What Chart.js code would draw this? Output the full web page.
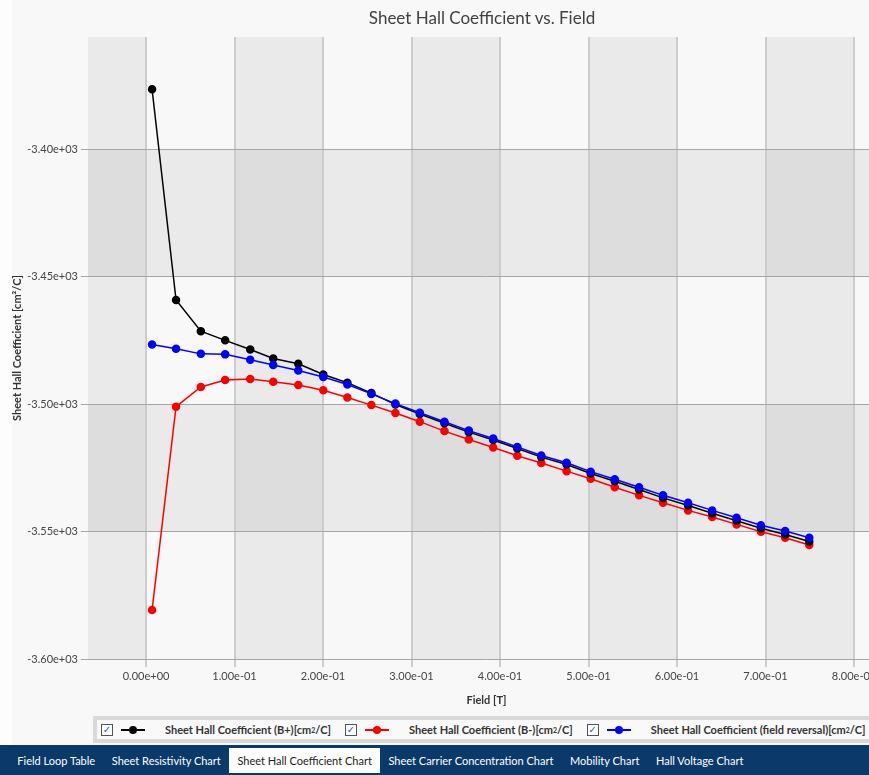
<!DOCTYPE html>
<html>
<head>
<meta charset="utf-8">
<title>Sheet Hall Coefficient vs. Field</title>
<script src="https://cdn.jsdelivr.net/npm/chart.js@4.4.1/dist/chart.umd.min.js"></script>
<style>
  html, body { margin: 0; padding: 0; width: 869px; height: 775px; overflow: hidden; background: #f8f8f8; font-family: Lato, "Liberation Sans", sans-serif; }
  #edge { position: absolute; left: 0; top: 0; width: 12px; height: 745px; background: #fdfdfd; }
  #title { position: absolute; top: 7px; left: 0; width: 964px; text-align: center; font-size: 17px; color: #404040; }
  #wrap { position: absolute; left: 0; top: 0; width: 890px; height: 715px; }
  #legend { position: absolute; left: 93px; top: 716px; width: 800px; height: 27px; background: #d9d9d9; }
  #legend .inner { position: absolute; left: 4px; top: 4px; right: 0; height: 19px; background: #f9f9f9; display: flex; align-items: center; white-space: nowrap; }
  .item { display: inline-flex; align-items: center; font-size: 11px; font-weight: bold; color: #333; margin-right: 10px; }
  .cb { width: 10px; height: 10px; border: 1px solid #555; background: #fff; font: 10px "DejaVu Sans"; line-height: 10px; text-align: center; color: #2a5db0; margin-left: 4px; }
  .sw { position: relative; width: 24px; height: 10px; margin: 0 20px 0 8px; }
  .sw::before { content: ""; position: absolute; left: 0; right: 0; top: 4px; height: 2px; background: var(--c); }
  .sw::after { content: ""; position: absolute; left: 8px; top: 1px; width: 8px; height: 8px; border-radius: 50%; background: var(--c); }
  .item sup { font-size: 7px; }
  #tabs { position: absolute; left: 0; top: 745px; width: 869px; height: 30px; background: #0b3a6a; display: flex; align-items: center; padding-left: 9px; box-sizing: border-box; }
  .tab { color: #fff; font-size: 11px; padding: 6px 8.3px; white-space: nowrap; }
  .tab.active { background: #fff; color: #222; }
</style>
</head>
<body>
<div id="edge"></div>
<div id="wrap"><canvas id="chart" width="890" height="715"></canvas></div>
<div id="title">Sheet Hall Coefficient vs. Field</div>
<div id="legend"><div class="inner" id="legendItems"></div></div>
<div id="tabs">
  <span class="tab">Field Loop Table</span>
  <span class="tab">Sheet Resistivity Chart</span>
  <span class="tab active">Sheet Hall Coefficient Chart</span>
  <span class="tab">Sheet Carrier Concentration Chart</span>
  <span class="tab">Mobility Chart</span>
  <span class="tab">Hall Voltage Chart</span>
</div>
<script>
// field values [T]
const fieldT = [0.0068, 0.0339, 0.0619, 0.0894, 0.1177, 0.1437, 0.1720, 0.2003, 0.2275, 0.2546,
  0.2818, 0.3093, 0.3372, 0.3647, 0.3923, 0.4195, 0.4466, 0.4752, 0.5024, 0.5296,
  0.5571, 0.5842, 0.6125, 0.6397, 0.6673, 0.6948, 0.7222, 0.7494];

// sheet hall coefficient [cm2/C]
const hallBplus = [-3376.5, -3459.2, -3471.4, -3475.0, -3478.6, -3482.1, -3484.2, -3488.4, -3491.6, -3495.7,
  -3500.2, -3503.9, -3507.5, -3511.0, -3514.1, -3517.4, -3520.8, -3523.7, -3527.2, -3530.3,
  -3533.5, -3536.8, -3539.8, -3542.8, -3545.8, -3548.7, -3551.2, -3553.9];
const hallBminus = [-3580.8, -3501.0, -3493.3, -3490.6, -3490.2, -3491.2, -3492.5, -3494.6, -3497.4, -3500.4,
  -3503.5, -3506.9, -3510.6, -3513.9, -3517.0, -3520.3, -3523.1, -3526.3, -3529.3, -3532.6,
  -3535.8, -3538.7, -3541.7, -3544.3, -3547.2, -3550.1, -3552.4, -3555.3];
const hallReversal = [-3476.6, -3478.3, -3480.3, -3480.5, -3482.6, -3484.7, -3486.8, -3489.4, -3492.3, -3496.0,
  -3499.8, -3503.4, -3506.9, -3510.4, -3513.5, -3516.8, -3520.2, -3523.0, -3526.5, -3529.5,
  -3532.6, -3535.8, -3538.7, -3541.7, -3544.6, -3547.5, -3549.8, -3552.4];

const seriesNames = ["Sheet Hall Coefficient (B+)", "Sheet Hall Coefficient (B-)", "Sheet Hall Coefficient (field reversal)"];
const seriesData = [hallBplus, hallBminus, hallReversal];
const seriesColors = ["#000000", "#ff0000", "#0000ff"];
const drawOrder = [1, 2, 0];

const xTicks = [0, 0.1, 0.2, 0.3, 0.4, 0.5, 0.6, 0.7, 0.8];
const yTicks = [-3600, -3550, -3500, -3450, -3400];
const xMin = -0.0656, xMax = 0.835;
const yMin = -3600, yMax = -3356;

function fmtExp(v) {
  const [m, e] = Number(v).toExponential(2).split("e");
  return m + "e" + e[0] + e.slice(1).padStart(2, "0");
}

// alternating grey bands behind the plot
const bands = {
  id: "bands",
  beforeDraw(chart) {
    const { ctx, chartArea: a, scales: { x, y } } = chart;
    ctx.save();
    ctx.fillStyle = "rgba(0,0,0,0.055)";
    const xs = [xMin, ...xTicks, xMax];
    for (let i = 0; i < xs.length - 1; i += 2) {
      const l = Math.max(a.left, x.getPixelForValue(xs[i]));
      const r = Math.min(a.right, x.getPixelForValue(xs[i + 1]));
      ctx.fillRect(l, a.top, r - l, a.bottom - a.top);
    }
    for (let i = 1; i < yTicks.length - 1; i += 2) {
      const t = y.getPixelForValue(yTicks[i + 1]);
      const b = y.getPixelForValue(yTicks[i]);
      ctx.fillRect(a.left, t, a.right - a.left, b - t);
    }
    ctx.restore();
  }
};

const tickFont = { family: "Lato, 'Liberation Sans', sans-serif", size: 11 };

new Chart(document.getElementById("chart"), {
  type: "line",
  data: {
    datasets: seriesNames.map((name, i) => ({
      label: name,
      data: fieldT.map((f, j) => ({ x: f, y: seriesData[i][j] })),
      borderColor: seriesColors[i],
      backgroundColor: seriesColors[i],
      borderWidth: 1.5,
      pointRadius: 3.5,
      pointHoverRadius: 3.5,
      order: drawOrder[i]
    }))
  },
  options: {
    responsive: false,
    animation: false,
    events: [],
    layout: { padding: { top: 37, left: 0, right: 0, bottom: 0 } },
    plugins: { legend: { display: false }, title: { display: false }, tooltip: { enabled: false } },
    scales: {
      x: {
        type: "linear",
        min: xMin,
        max: xMax,
        afterBuildTicks: (s) => { s.ticks = xTicks.map((v) => ({ value: v })); },
        afterFit: (s) => { s.height = 56; },
        ticks: { callback: (v) => fmtExp(v), font: tickFont, color: "#444", padding: 3, maxRotation: 0, autoSkip: false },
        grid: { color: "#cccccc", lineWidth: 2, tickLength: 8 },
        border: { display: false },
        title: { display: true, text: "Field [T]", font: { ...tickFont, weight: "bold" }, color: "#333", padding: { top: 0, bottom: 8 } }
      },
      y: {
        min: yMin,
        max: yMax,
        afterBuildTicks: (s) => { s.ticks = yTicks.map((v) => ({ value: v })); },
        afterFit: (s) => { s.width = 88; },
        ticks: { callback: (v) => fmtExp(v), font: tickFont, color: "#444", padding: 3 },
        grid: { color: "#a6a6a6", lineWidth: 1, tickLength: 7 },
        border: { display: false },
        title: { display: true, text: "Sheet Hall Coefficient [cm²/C]", font: { ...tickFont, weight: "bold" }, color: "#333", padding: { top: 11, bottom: 4 } }
      }
    }
  },
  plugins: [bands]
});

// legend with check boxes
const legendItems = document.getElementById("legendItems");
seriesNames.forEach((name, i) => {
  const item = document.createElement("span");
  item.className = "item";
  item.innerHTML = `<span class="cb">✓</span><span class="sw" style="--c:${seriesColors[i]}"></span>${name}[cm<sup>2</sup>/C]`;
  legendItems.appendChild(item);
});
</script>
</body>
</html>
